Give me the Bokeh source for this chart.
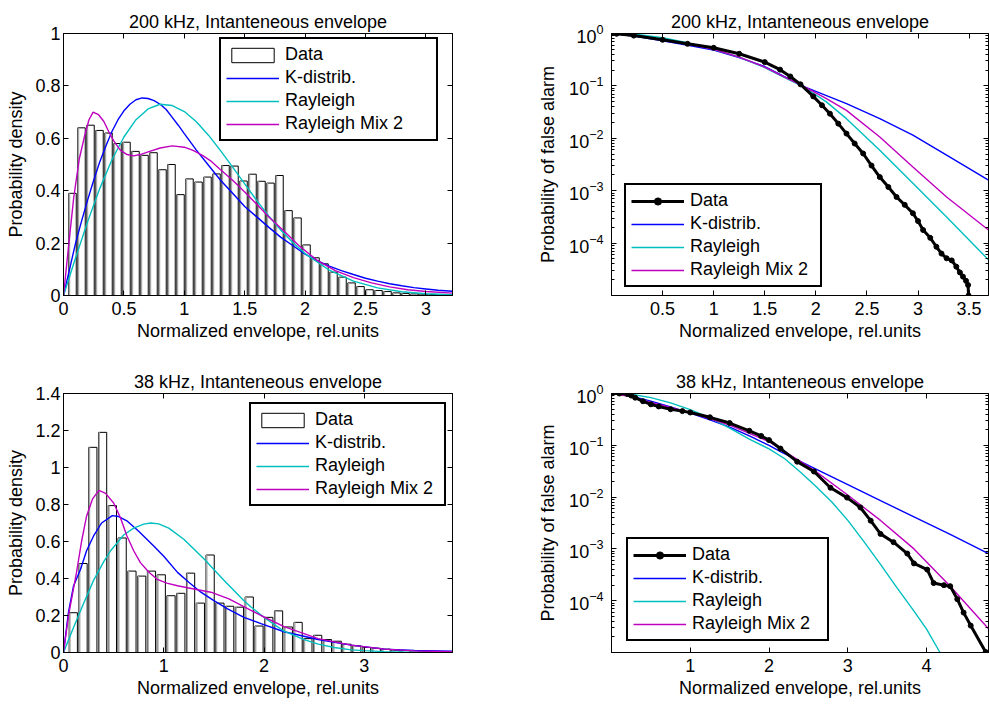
import numpy as np
from bokeh.plotting import figure
from bokeh.models import (FixedTicker, LinearAxis, LogAxis, Legend, LegendItem,
                          Range1d, CustomJSTickFormatter)
from bokeh.layouts import column, row
from bokeh.embed import file_html
from bokeh.resources import INLINE

FONT = "Liberation Sans"
FS = "18px"
BLUE = "#0000ff"
CYAN = "#00bfbf"
MAGENTA = "#bf00bf"

# ---------------- data: 200 kHz histogram (top-left) ----------------
tl_bin_step = 0.0745
tl_bar_heights = [0.39, 0.64, 0.65, 0.63, 0.62, 0.58, 0.585, 0.55, 0.535, 0.545,
                  0.48, 0.50, 0.385, 0.445, 0.433, 0.452, 0.464, 0.496, 0.494, 0.437,
                  0.463, 0.436, 0.429, 0.458, 0.324, 0.296, 0.193, 0.144, 0.121, 0.089,
                  0.07, 0.048, 0.034, 0.022, 0.019, 0.015, 0.01, 0.008, 0.006, 0.005,
                  0.004, 0.003, 0.002]
tl_k_x = [0, 0.05, 0.1, 0.15, 0.2, 0.25, 0.3, 0.35, 0.4, 0.45, 0.5, 0.55, 0.6, 0.65,
          0.7, 0.75, 0.8, 0.85, 0.9, 0.95, 1.0, 1.1, 1.2, 1.3, 1.4, 1.5, 1.6, 1.7, 1.8,
          1.9, 2.0, 2.1, 2.2, 2.3, 2.4, 2.5, 2.6, 2.7, 2.8, 2.9, 3.0, 3.1, 3.22]
tl_k_y = [0, 0.1, 0.2, 0.285, 0.365, 0.44, 0.51, 0.57, 0.625, 0.67, 0.705, 0.73, 0.747,
          0.754, 0.752, 0.744, 0.73, 0.71, 0.68, 0.65, 0.618, 0.555, 0.497, 0.44, 0.39,
          0.34, 0.30, 0.26, 0.222, 0.19, 0.158, 0.133, 0.112, 0.095, 0.08, 0.066, 0.055,
          0.045, 0.037, 0.03, 0.025, 0.02, 0.016]
tl_r_x = [0, 0.1, 0.2, 0.3, 0.4, 0.5, 0.6, 0.7, 0.8, 0.9, 1.0, 1.1, 1.2, 1.3, 1.4, 1.5,
          1.6, 1.7, 1.8, 1.9, 2.0, 2.2, 2.4, 2.6, 2.8, 3.0, 3.22]
tl_r_y = [0, 0.144, 0.282, 0.408, 0.517, 0.605, 0.671, 0.712, 0.73, 0.725, 0.702, 0.663,
          0.612, 0.553, 0.49, 0.426, 0.362, 0.303, 0.249, 0.201, 0.16, 0.097, 0.055,
          0.029, 0.0145, 0.0068, 0.003]
tl_m_x = [0, 0.04, 0.085, 0.13, 0.17, 0.21, 0.245, 0.29, 0.333, 0.375, 0.416, 0.47,
          0.526, 0.58, 0.636, 0.7, 0.8, 0.9, 1.0, 1.077, 1.15, 1.215, 1.3, 1.4, 1.5,
          1.6, 1.7, 1.82, 1.95, 2.1, 2.25, 2.4, 2.55, 2.7, 2.85, 3.0, 3.22]
tl_m_y = [0, 0.18, 0.375, 0.52, 0.6, 0.67, 0.70, 0.69, 0.665, 0.625, 0.59, 0.555,
          0.538, 0.533, 0.538, 0.548, 0.563, 0.571, 0.566, 0.553, 0.535, 0.515, 0.48,
          0.44, 0.395, 0.348, 0.30, 0.248, 0.19, 0.134, 0.095, 0.068, 0.048, 0.033,
          0.022, 0.015, 0.009]

# ---------------- data: 38 kHz histogram (bottom-left) ----------------
bl_bin_step = 0.0975
bl_bar_heights = [0.215, 0.481, 1.109, 1.19, 0.794, 0.619, 0.44, 0.413, 0.44, 0.42,
                  0.307, 0.32, 0.429, 0.267, 0.527, 0.267, 0.25, 0.245, 0.30, 0.143,
                  0.19, 0.225, 0.138, 0.163, 0.075, 0.093, 0.07, 0.061, 0.045, 0.036,
                  0.027, 0.023, 0.018, 0.0125, 0.011, 0.009, 0.007, 0.005, 0.004]
bl_k_x = [0, 0.05, 0.1, 0.17, 0.23, 0.3, 0.38, 0.487, 0.55, 0.637, 0.75, 0.9, 1.0,
          1.137, 1.25, 1.37, 1.5, 1.637, 1.8, 1.97, 2.2, 2.54, 2.87, 3.2, 3.5, 3.88]
bl_k_y = [0, 0.22, 0.36, 0.45, 0.55, 0.63, 0.70, 0.74, 0.735, 0.71, 0.655, 0.576, 0.52,
          0.433, 0.38, 0.326, 0.28, 0.236, 0.19, 0.156, 0.112, 0.07, 0.04, 0.018, 0.011,
          0.007]
bl_r_x = [0, 0.1, 0.2, 0.3, 0.4, 0.47, 0.6, 0.7, 0.8, 0.87, 0.95, 1.05, 1.2, 1.4, 1.6,
          1.8, 1.87, 2.0, 2.2, 2.4, 2.54, 2.7, 2.87, 3.0, 3.2, 3.5, 3.88]
bl_r_y = [0, 0.135, 0.265, 0.39, 0.49, 0.55, 0.635, 0.672, 0.694, 0.70, 0.695, 0.672,
          0.612, 0.507, 0.39, 0.28, 0.246, 0.19, 0.115, 0.07, 0.045, 0.027, 0.014, 0.01,
          0.005, 0.0015, 0.0002]
bl_m_x = [0, 0.05, 0.13, 0.18, 0.23, 0.29, 0.353, 0.42, 0.5, 0.567, 0.633, 0.7, 0.767,
          0.85, 0.93, 1.03, 1.137, 1.3, 1.47, 1.65, 1.87, 1.97, 2.2, 2.54, 2.87, 3.2,
          3.5, 3.88]
bl_m_y = [0, 0.2, 0.433, 0.6, 0.737, 0.83, 0.876, 0.86, 0.808, 0.73, 0.63, 0.55, 0.486,
          0.435, 0.397, 0.375, 0.361, 0.343, 0.326, 0.29, 0.228, 0.2, 0.14, 0.075,
          0.04, 0.018, 0.009, 0.004]

# ---------------- data: 200 kHz false alarm (top-right), log10 values ----------------
tr_d_x = [0, 0.05, 0.218, 0.5, 0.744, 1.0, 1.25, 1.5, 1.65, 1.75, 1.85, 1.975, 2.06,
          2.138, 2.22, 2.30, 2.38, 2.463, 2.545, 2.626, 2.71, 2.79, 2.87, 2.95, 3.0,
          3.05, 3.12, 3.18, 3.23, 3.28, 3.33, 3.375, 3.41, 3.44, 3.47, 3.49, 3.495]
tr_d_log = [0, -0.005, -0.04, -0.12, -0.197, -0.273, -0.387, -0.546, -0.69, -0.82,
            -0.97, -1.2, -1.37, -1.53, -1.72, -1.91, -2.10, -2.29, -2.52, -2.74, -2.93,
            -3.12, -3.27, -3.43, -3.58, -3.75, -3.9, -4.07, -4.2, -4.29, -4.33, -4.45,
            -4.56, -4.64, -4.72, -4.8, -5.0]
tr_k_x = [0, 0.25, 0.5, 0.75, 1.0, 1.25, 1.5, 1.65, 1.89, 2.3, 2.626, 2.95, 3.28, 3.69]
tr_k_log = [0, -0.06, -0.14, -0.225, -0.317, -0.46, -0.63, -0.78, -1.02, -1.34, -1.625,
            -1.94, -2.32, -2.8]
tr_r_x = [0, 0.25, 0.5, 0.75, 1.0, 1.25, 1.5, 1.65, 1.89, 2.1, 2.3, 2.626, 2.95, 3.28,
          3.69]
tr_r_log = [0, -0.02, -0.08, -0.18, -0.3, -0.45, -0.65, -0.8, -1.03, -1.3, -1.625, -2.23,
            -2.86, -3.5, -4.32]
tr_m_x = [0, 0.25, 0.5, 0.75, 1.0, 1.25, 1.5, 1.65, 1.89, 2.1, 2.3, 2.626, 2.95, 3.28,
          3.69]
tr_m_log = [0, -0.04, -0.12, -0.2, -0.3, -0.45, -0.64, -0.79, -1.02, -1.24, -1.467,
            -1.975, -2.547, -3.12, -3.75]

# ---------------- data: 38 kHz false alarm (bottom-right), log10 values ----------------
br_d_x = [0, 0.1, 0.2, 0.25, 0.3, 0.4, 0.5, 0.6, 0.75, 0.9, 1.0, 1.25, 1.5, 1.75, 1.9,
          2.0, 2.145, 2.357, 2.57, 2.78, 2.99, 3.16, 3.29, 3.415, 3.58, 3.755, 3.84,
          4.008, 4.09, 4.22, 4.30, 4.39, 4.47, 4.56, 4.75]
br_d_log = [0, 0, -0.01, -0.04, -0.08, -0.15, -0.209, -0.25, -0.304, -0.34, -0.367,
            -0.46, -0.57, -0.72, -0.82, -0.9, -1.063, -1.316, -1.506, -1.82, -2.01, -2.2,
            -2.455, -2.71, -2.87, -3.09, -3.28, -3.40, -3.66, -3.70, -3.72, -3.97, -4.23,
            -4.48, -4.99]
br_k_x = [0, 0.1, 0.25, 0.5, 0.75, 1.0, 1.25, 1.5, 1.75, 2.0, 2.145, 2.57, 3.0, 3.415,
          3.84, 4.3, 4.786]
br_k_log = [0, -0.01, -0.05, -0.146, -0.26, -0.38, -0.51, -0.65, -0.82, -1.0, -1.12,
            -1.44, -1.76, -2.07, -2.38, -2.72, -3.09]
br_r_x = [0, 0.25, 0.5, 0.75, 1.0, 1.25, 1.5, 1.75, 2.0, 2.2, 2.4, 2.6, 2.8, 3.0, 3.2,
          3.415, 3.6, 3.84, 4.0, 4.17]
br_r_log = [0, -0.015, -0.08, -0.18, -0.31, -0.47, -0.67, -0.88, -1.07, -1.26, -1.52,
            -1.8, -2.1, -2.45, -2.85, -3.3, -3.7, -4.2, -4.55, -5.0]
br_m_x = [0, 0.25, 0.5, 0.75, 1.0, 1.5, 2.0, 2.145, 2.57, 2.99, 3.415, 3.84, 4.30, 4.786]
br_m_log = [0, -0.06, -0.17, -0.27, -0.37, -0.61, -0.93, -1.07, -1.48, -1.95, -2.45,
            -3.0, -3.72, -4.54]

# ---------------- ticks & labels ----------------
tl_xticks = [0, 0.5, 1, 1.5, 2, 2.5, 3]
tl_yticks = [0, 0.2, 0.4, 0.6, 0.8, 1.0]
bl_xticks = [0, 1, 2, 3]
bl_yticks = [0, 0.2, 0.4, 0.6, 0.8, 1.0, 1.2, 1.4]
tr_xticks = [0.5, 1, 1.5, 2, 2.5, 3, 3.5]
br_xticks = [1, 2, 3, 4]
log_yticks = [1e-4, 1e-3, 1e-2, 1e-1, 1.0]
log_minor = [m * 10.0 ** e for e in range(-5, 0) for m in range(2, 10)]

title_200 = "200 kHz, Intanteneous envelope"
title_38 = "38 kHz, Intanteneous envelope"
xlabel = "Normalized envelope, rel.units"
ylabel_pdf = "Probability density"
ylabel_pfa = "Probability of false alarm"
legend_names = ["Data", "K-distrib.", "Rayleigh", "Rayleigh Mix 2"]


def style_axis(ax, show_labels=True):
    ax.major_tick_in = 5
    ax.major_tick_out = 0
    ax.minor_tick_in = 3
    ax.minor_tick_out = 0
    ax.axis_line_color = "black"
    ax.major_tick_line_color = "black"
    ax.minor_tick_line_color = "black"
    ax.major_label_text_font = FONT
    ax.major_label_text_color = "black"
    ax.axis_label_text_font = FONT
    ax.axis_label_text_font_size = FS
    ax.axis_label_text_font_style = "normal"
    ax.axis_label_text_color = "black"
    if show_labels:
        ax.major_label_text_font_size = FS
    else:
        ax.formatter = CustomJSTickFormatter(code="return ''")
        ax.major_label_text_font_size = "1px"
        ax.major_label_standoff = 0


def make_fig(w, h, lb, rb, tb, bb, xr, yr, title, xt, yt, ylog=False):
    p = figure(width=w, height=h, x_range=Range1d(*xr), y_range=Range1d(*yr),
               y_axis_type="log" if ylog else "linear", output_backend="svg",
               toolbar_location=None, min_border_left=lb, min_border_right=rb,
               min_border_top=tb, min_border_bottom=bb, title=title)
    p.title.text_font = FONT
    p.title.text_font_size = FS
    p.title.text_font_style = "normal"
    p.title.text_color = "black"
    p.title.align = "center"
    p.title.standoff = 4
    p.grid.visible = False
    p.outline_line_color = "black"
    p.outline_line_alpha = 1.0
    p.background_fill_color = "white"
    p.border_fill_color = "white"
    xa = p.below[0]
    ya = p.left[0]
    xa.ticker = FixedTicker(ticks=xt)
    if ylog:
        ya.ticker = FixedTicker(ticks=yt, minor_ticks=log_minor)
    else:
        ya.ticker = FixedTicker(ticks=yt)
    style_axis(xa)
    style_axis(ya)
    xa.minor_tick_line_color = None
    if not ylog:
        ya.minor_tick_line_color = None
    xa.axis_label = xlabel
    xa.major_label_standoff = 6
    xa.axis_label_standoff = 3
    top = LinearAxis(ticker=FixedTicker(ticks=xt))
    style_axis(top, False)
    top.minor_tick_line_color = None
    p.add_layout(top, "above")
    if ylog:
        right = LogAxis(ticker=FixedTicker(ticks=yt, minor_ticks=log_minor))
    else:
        right = LinearAxis(ticker=FixedTicker(ticks=yt))
    style_axis(right, False)
    if not ylog:
        right.minor_tick_line_color = None
    p.add_layout(right, "right")
    return p, ya


def add_legend(p, items, loc, label_w):
    lg = Legend(items=items, location=loc)
    lg.label_text_font = FONT
    lg.label_text_font_size = FS
    lg.label_text_color = "black"
    lg.border_line_color = "black"
    lg.border_line_alpha = 1.0
    lg.border_line_width = 2
    lg.background_fill_color = "white"
    lg.background_fill_alpha = 1.0
    lg.glyph_width = 53
    lg.glyph_height = 18
    lg.label_height = 21
    lg.label_width = label_w
    lg.label_standoff = 6
    lg.spacing = 2
    lg.padding = 5
    lg.margin = 0
    p.add_layout(lg)


def hist_panel(w, h, lb, rb, tb, bb, xr, yr, title, xt, yt, step, heights,
               bar_w, band_w, kx, ky, rx, ry, mx, my, loc, label_w):
    p, ya = make_fig(w, h, lb, rb, tb, bb, xr, yr, title, xt, yt)
    ya.axis_label = ylabel_pdf
    ya.major_label_standoff = 3
    ya.axis_label_standoff = 6
    centers = step * np.arange(1, len(heights) + 1)
    bars = p.vbar(x=centers, width=bar_w, top=heights, bottom=0, fill_color="white",
                  line_color="black", line_width=1)
    p.vbar(x=centers - bar_w / 2 + band_w / 2, width=band_w, top=heights, bottom=0,
           fill_color="#a6a6a6", line_color=None)
    rk = p.line(kx, ky, line_color=BLUE, line_width=1.4)
    rr = p.line(rx, ry, line_color=CYAN, line_width=1.4)
    rm = p.line(mx, my, line_color=MAGENTA, line_width=1.4)
    items = [LegendItem(label=legend_names[0], renderers=[bars]),
             LegendItem(label=legend_names[1], renderers=[rk]),
             LegendItem(label=legend_names[2], renderers=[rr]),
             LegendItem(label=legend_names[3], renderers=[rm])]
    add_legend(p, items, loc, label_w)
    return p


def pfa_panel(w, h, lb, rb, tb, bb, xr, title, xt, dx, dlog, kx, klog, rx, rlog,
              mx, mlog, loc, label_w):
    p, ya = make_fig(w, h, lb, rb, tb, bb, xr, (1e-5, 1.0), title, xt, log_yticks,
                     ylog=True)
    ya.axis_label = ylabel_pfa
    ya.major_label_standoff = 8
    ya.axis_label_standoff = 8
    rk = p.line(kx, 10.0 ** np.array(klog), line_color=BLUE, line_width=1.4)
    rr = p.line(rx, 10.0 ** np.array(rlog), line_color=CYAN, line_width=1.4)
    rm = p.line(mx, 10.0 ** np.array(mlog), line_color=MAGENTA, line_width=1.4)
    dy = 10.0 ** np.array(dlog)
    dl = p.line(dx, dy, line_color="black", line_width=3)
    ds = p.scatter(dx, dy, size=5, marker="circle", fill_color="black",
                   line_color="black")
    items = [LegendItem(label=legend_names[0], renderers=[dl, ds]),
             LegendItem(label=legend_names[1], renderers=[rk]),
             LegendItem(label=legend_names[2], renderers=[rr]),
             LegendItem(label=legend_names[3], renderers=[rm])]
    add_legend(p, items, loc, label_w)
    return p


p1 = hist_panel(500, 355, 63, 48, 33, 60, (0, 3.22), (0, 1), title_200, tl_xticks,
                tl_yticks, tl_bin_step, tl_bar_heights, 0.062, 0.012, tl_k_x, tl_k_y,
                tl_r_x, tl_r_y, tl_m_x, tl_m_y, (156, 154), 146)
p2 = pfa_panel(489, 355, 111, 1, 33, 60, (0, 3.69), title_200, tr_xticks, tr_d_x,
               tr_d_log, tr_k_x, tr_k_log, tr_r_x, tr_r_log, tr_m_x, tr_m_log,
               (13, 8), 125)
p3 = hist_panel(500, 352, 63, 48, 38, 53, (0, 3.88), (0, 1.4), title_38, bl_xticks,
                bl_yticks, bl_bin_step, bl_bar_heights, 0.082, 0.015, bl_k_x, bl_k_y,
                bl_r_x, bl_r_y, bl_m_x, bl_m_y, (186, 146), 124)
p4 = pfa_panel(489, 352, 111, 1, 34, 55, (0, 4.786), title_38, br_xticks, br_d_x,
               br_d_log, br_k_x, br_k_log, br_r_x, br_r_log, br_m_x, br_m_log,
               (15, 11), 130)

layout = column(row(p1, p2), row(p3, p4))
open("out.html", "w").write(file_html(layout, INLINE))
